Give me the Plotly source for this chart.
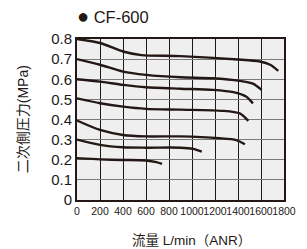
import plotly.graph_objects as go

# Flow (L/min ANR) and secondary pressure (MPa) for each set pressure curve
flow_08 = [0, 200, 400, 560, 900, 1400, 1590, 1680, 1750]
pres_08 = [0.80, 0.78, 0.738, 0.72, 0.715, 0.698, 0.688, 0.672, 0.642]

flow_07 = [0, 200, 400, 600, 900, 1180, 1415, 1530, 1605]
pres_07 = [0.70, 0.672, 0.638, 0.622, 0.61, 0.605, 0.592, 0.578, 0.547]

flow_06 = [0, 200, 400, 600, 900, 1180, 1360, 1470, 1530]
pres_06 = [0.60, 0.588, 0.572, 0.56, 0.553, 0.547, 0.536, 0.514, 0.48]

flow_05 = [0, 200, 400, 600, 900, 1270, 1415, 1490]
pres_05 = [0.505, 0.481, 0.464, 0.453, 0.449, 0.443, 0.43, 0.393]

flow_04 = [0, 200, 400, 600, 900, 1240, 1385, 1460]
pres_04 = [0.395, 0.348, 0.323, 0.316, 0.316, 0.307, 0.298, 0.277]

flow_03 = [0, 200, 400, 600, 900, 1010, 1085]
pres_03 = [0.30, 0.274, 0.262, 0.26, 0.26, 0.254, 0.24]

flow_02 = [0, 200, 400, 600, 690, 740]
pres_02 = [0.208, 0.202, 0.199, 0.196, 0.188, 0.179]

x_ticks = [0, 200, 400, 600, 800, 1000, 1200, 1400, 1600, 1800]
y_ticks = [0, 0.1, 0.2, 0.3, 0.4, 0.5, 0.6, 0.7, 0.8]
y_tick_text = ["0", "0.1", "0.2", "0.3", "0.4", "0.5", "0.6", "0.7", "0.8"]

series = [(flow_08, pres_08), (flow_07, pres_07), (flow_06, pres_06),
          (flow_05, pres_05), (flow_04, pres_04), (flow_03, pres_03),
          (flow_02, pres_02)]

ink = "#231815"
fig = go.Figure()
for fx, py in series:
    fig.add_trace(go.Scatter(x=fx, y=py, mode="lines",
                             line=dict(color=ink, width=2.4, shape="spline", smoothing=0.7),
                             showlegend=False, hoverinfo="skip"))

font = "Liberation Sans, Arial, Noto Sans CJK JP, sans-serif"
fig.update_layout(
    width=307, height=249,
    margin=dict(l=77, r=23, t=39, b=49),
    paper_bgcolor="white",
    plot_bgcolor="#efefef",
    font=dict(family=font, color=ink),
    showlegend=False,
    xaxis=dict(range=[0, 1800], tickvals=x_ticks, ticktext=[str(v) for v in x_ticks],
               showgrid=True, gridcolor=ink, gridwidth=1, zeroline=False,
               showline=True, linecolor=ink, linewidth=2, mirror=True, automargin=False,
               ticks="", tickangle=0, tickfont=dict(size=10.5, color=ink)),
    yaxis=dict(range=[0, 0.8], tickvals=y_ticks, ticktext=y_tick_text,
               showgrid=True, gridcolor="#7a7a7a", gridwidth=1, zeroline=False,
               showline=True, linecolor=ink, linewidth=2, mirror=True, automargin=False,
               ticks="", tickfont=dict(size=15, color=ink)),
)

fig.add_annotation(text="二次側圧力(MPa)", xref="paper", yref="paper",
                   x=-0.262, y=0.5, xanchor="center", yanchor="middle",
                   textangle=-90, showarrow=False,
                   font=dict(size=14, color=ink, family=font))
fig.add_annotation(text="流量 L/min（ANR）", xref="paper", yref="paper",
                   x=0.555, y=-0.25, xanchor="center", yanchor="middle",
                   showarrow=False, font=dict(size=13.5, color=ink, family=font))
fig.add_annotation(text="<span style='font-size:20px'>●</span> CF-600", xref="paper", yref="paper",
                   x=-0.01, y=1.145, xanchor="left", yanchor="middle",
                   showarrow=False, font=dict(size=16.5, color=ink, family=font))

fig.write_html("out.html", config={"displayModeBar": False},
               post_script="document.body.style.margin='0';")
